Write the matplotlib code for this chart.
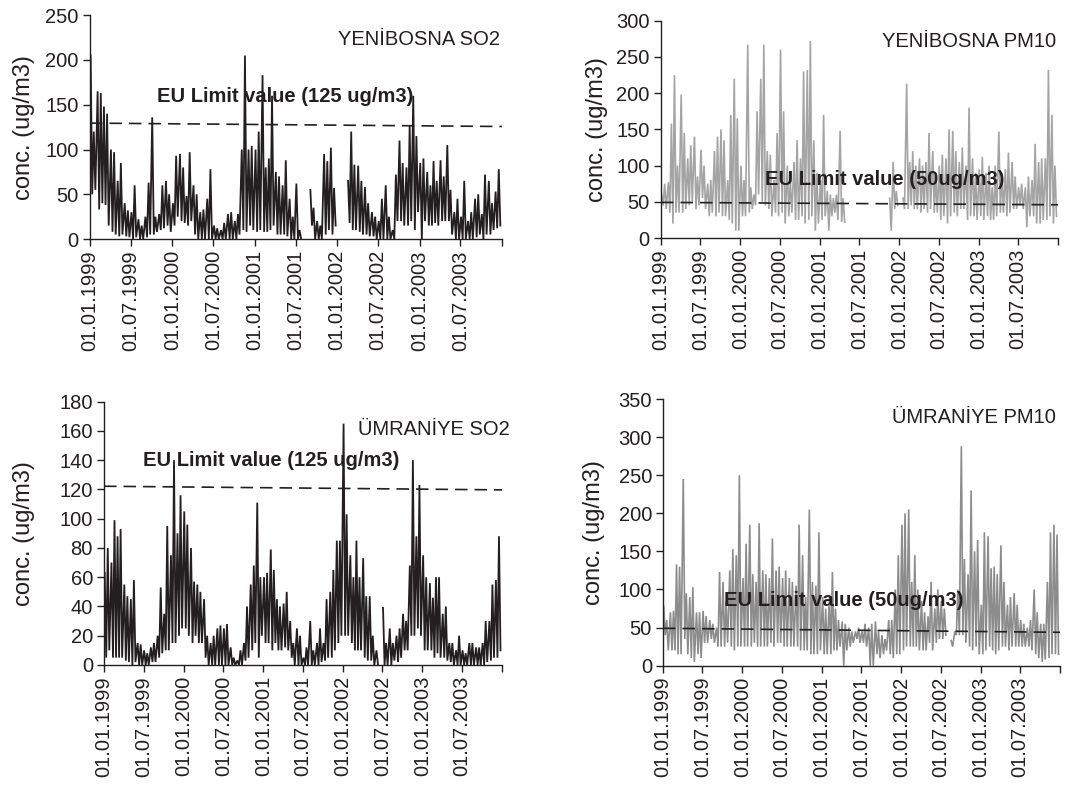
import numpy as np
import pandas as pd
import matplotlib
matplotlib.use("Agg")
import matplotlib.pyplot as plt
import matplotlib.dates as mdates

plt.rcParams['font.family'] = ['Liberation Sans', 'DejaVu Sans']

nan = np.nan

# half-month periods 01.01.1999 .. 16.12.2003
periods = pd.date_range("1999-01-01", periods=120, freq="SMS")

# peak / low value in each half month, ug/m3
yb_so2_hi = [205, 120, 165, 163, 148, 140, 100, 97, 65, 85,
             40, 32, 30, 60, 22, 15, 25, 63, 136, 25,
             28, 60, 65, 50, 40, 93, 95, 80, 48, 97,
             60, 50, 30, 33, 45, 78, 15, 12, 10, 18,
             28, 30, 20, 28, 100, 205, 100, 104, 100, 120,
             183, 80, 90, 160, 75, 70, 60, 88, 45, 25,
             62, 10, nan, nan, 55, 35, 20, 15, 95, 87,
             102, 57, nan, nan, nan, 65, 120, 83, 82, 65,
             58, 40, 30, 25, 20, 45, 60, 25, 10, 72,
             110, 85, 80, 127, 160, 115, 85, 90, 75, 60,
             87, 65, 88, 70, 105, 55, 30, 45, 25, 65,
             20, 30, 45, 50, 28, 72, 65, 40, 53, 78]
yb_so2_lo = [50, 55, 33, 40, 38, 15, 8, 5, 3, 5,
             3, 2, 0, 2, 0, 0, 2, 5, 5, 8,
             10, 12, 15, 8, 15, 25, 20, 18, 15, 20,
             5, 0, 0, 0, 0, 0, 0, 0, 0, 0,
             0, 0, 0, 5, 10, 8, 15, 10, 8, 10,
             8, 8, 10, 15, 5, 5, 5, 3, 0, 0,
             0, 0, nan, nan, 15, 0, 0, 0, 5, 10,
             5, 15, nan, nan, nan, 18, 10, 10, 8, 5,
             5, 3, 3, 0, 0, 0, 0, 0, 0, 20,
             20, 15, 15, 20, 10, 30, 0, 20, 15, 15,
             18, 15, 20, 20, 20, 5, 0, 0, 0, 0,
             0, 0, 2, 5, 0, 5, 5, 10, 12, 15]

yb_pm_hi = [60, 75, 77, 158, 225, 100, 198, 145, 110, 128,
            140, 85, 122, 100, 75, 80, 120, 140, 150, 135,
            80, 170, 220, 165, 100, 80, 267, 70, 60, 175,
            220, 267, 120, 115, 80, 145, 260, 175, 100, 80,
            105, 135, 110, 230, 232, 272, 135, 90, 80, 170,
            65, 60, 55, 60, 148, 55, nan, nan, nan, nan,
            nan, nan, nan, nan, nan, nan, nan, nan, nan, 55,
            105, 65, nan, 55, 213, 105, 120, 100, 110, 100,
            105, 145, 120, 90, 100, 115, 110, 150, 148, 120,
            105, 125, 100, 180, 110, 90, 95, 112, 90, 100,
            70, 100, 147, 90, 95, 118, 105, 85, 70, 75,
            70, 85, 80, 130, 105, 110, 110, 232, 170, 100]
yb_pm_lo = [45, 40, 35, 20, 35, 35, 35, 40, 45, 50,
            40, 45, 55, 40, 30, 35, 30, 35, 30, 30,
            25, 20, 10, 10, 30, 30, 35, 40, 45, 60,
            50, 45, 40, 30, 35, 30, 35, 20, 30, 35,
            25, 25, 30, 20, 25, 30, 10, 20, 25, 30,
            10, 30, 35, 25, 22, 22, nan, nan, nan, nan,
            nan, nan, nan, nan, nan, nan, nan, nan, nan, 10,
            40, 45, nan, 40, 40, 45, 40, 40, 35, 40,
            35, 40, 35, 35, 25, 30, 20, 30, 35, 30,
            40, 40, 25, 30, 30, 25, 30, 25, 30, 25,
            25, 30, 35, 35, 30, 35, 40, 40, 45, 40,
            15, 30, 30, 20, 20, 25, 25, 30, 20, 30]

um_so2_hi = [63, 80, 70, 99, 88, 93, 55, 47, 45, 58,
             15, 14, 10, 8, 12, 15, 20, 53, 35, 95,
             75, 140, 90, 116, 105, 96, 80, 57, 55, 50,
             45, 20, 15, 20, 25, 27, 25, 28, 12, 5,
             3, 10, 15, 40, 55, 68, 111, 60, 60, 63,
             79, 65, 45, 40, 42, 50, 30, 15, 25, 20,
             5, 12, 30, 10, 15, 25, 15, 45, 50, 65,
             85, 85, 165, 103, 75, 60, 85, 60, 73, 47,
             47, 20, 10, nan, 39, 15, 25, 15, 20, 25,
             35, 30, 68, 140, 88, 123, 75, 60, 56, 46,
             60, 60, 35, 40, 15, 15, 10, 20, 10, 8,
             15, 15, 12, 12, 15, 30, 30, 55, 58, 88]
um_so2_lo = [5, 10, 5, 5, 5, 5, 3, 2, 0, 2,
             0, 0, 0, 0, 2, 2, 5, 8, 10, 10,
             15, 15, 20, 25, 25, 20, 15, 20, 15, 15,
             5, 0, 0, 0, 0, 0, 0, 0, 0, 0,
             0, 0, 3, 5, 10, 15, 5, 20, 15, 15,
             10, 15, 10, 10, 12, 10, 5, 0, 0, 0,
             0, 0, 0, 0, 0, 2, 3, 5, 5, 10,
             15, 20, 20, 20, 15, 10, 10, 10, 5, 3,
             3, 0, 0, nan, 0, 0, 0, 3, 2, 5,
             10, 10, 20, 20, 25, 20, 10, 10, 10, 5,
             8, 5, 5, 3, 2, 0, 0, 0, 0, 0,
             0, 0, 0, 0, 0, 2, 3, 5, 5, 10]

um_pm_hi = [78, 60, 70, 72, 133, 130, 245, 95, 90, 103,
            70, 70, 72, 65, 60, 55, 50, 123, 110, 85,
            125, 153, 145, 250, 115, 160, 185, 120, 110, 187,
            125, 120, 115, 167, 125, 130, 115, 125, 115, 110,
            105, 185, 145, 90, 205, 110, 105, 175, 90, 75,
            90, 123, 75, 60, 58, 55, 50, 45, 45, 50,
            45, 55, 50, 55, 58, 45, 40, 35, 60, 60,
            100, 145, 185, 200, 205, 110, 145, 100, 85, 70,
            65, 110, 75, 100, 85, 75, nan, 33, 45, 100,
            288, 140, 120, 230, 150, 165, 80, 175, 170, 128,
            130, 120, 158, 110, 80, 90, 95, 80, 60, 55,
            50, 60, 100, 70, 55, 55, 110, 175, 185, 172]
um_pm_lo = [40, 20, 20, 20, 15, 15, 35, 15, 10, 5,
            15, 10, 30, 30, 35, 30, 25, 25, 25, 30,
            25, 20, 25, 25, 25, 25, 25, 30, 25, 25,
            25, 25, 30, 25, 30, 30, 25, 25, 25, 25,
            25, 20, 20, 20, 15, 15, 15, 20, 15, 15,
            15, 20, 20, 25, 0, 20, 25, 30, 35, 30,
            30, 25, 0, 0, 15, 10, 15, 20, 15, 10,
            15, 15, 20, 25, 25, 25, 25, 20, 20, 20,
            30, 20, 30, 35, 35, 40, nan, 25, 40, 40,
            40, 30, 25, 20, 25, 15, 15, 20, 25, 20,
            15, 20, 25, 25, 20, 25, 25, 25, 25, 25,
            25, 20, 15, 10, 5, 8, 10, 15, 15, 15]

# drawn EU limit lines (start, end) as they appear
yb_so2_limit = [129.5, 125.7]
yb_pm_limit = [49.2, 45.9]
um_so2_limit = [122.2, 119.7]
um_pm_limit = [49.1, 43.8]

tick_dates = pd.date_range("1999-01-01", "2004-01-01", freq="6MS")
tick_labels = [d.strftime("%d.%m.%Y") for d in tick_dates[:-1]] + [""]


def zigzag(hi, lo):
    t = mdates.date2num(periods.to_pydatetime())
    x = np.column_stack((t + 3, t + 10)).ravel()
    y = np.column_stack((hi, lo)).ravel()
    return x, y


fig = plt.figure(figsize=(10.85, 7.85), dpi=100)

panels = [
    # rect, hi, lo, color, line width, ymax, ystep, limit, limit text, text pos, title, title pos, ylabel x
    ([0.0829, 0.6955, 0.3797, 0.2851], yb_so2_hi, yb_so2_lo, "#231f20", 1.3, 250, 50,
     yb_so2_limit, "EU Limit value (125 ug/m3)", (0.163, 0.636),
     "YENİBOSNA SO2", (0.995, 0.89), -0.133),
    ([0.6092, 0.6968, 0.3659, 0.2768], yb_pm_hi, yb_pm_lo, "#a4a4a4", 1.2, 300, 50,
     yb_pm_limit, "EU Limit value (50ug/m3)", (0.262, 0.267),
     "YENİBOSNA PM10", (0.995, 0.903), -0.133),
    ([0.0959, 0.1529, 0.3668, 0.3354], um_so2_hi, um_so2_lo, "#231f20", 1.3, 180, 20,
     um_so2_limit, "EU Limit value (125 ug/m3)", (0.099, 0.778),
     "ÜMRANİYE SO2", (1.02, 0.893), -0.173),
    ([0.6111, 0.1520, 0.3659, 0.3397], um_pm_hi, um_pm_lo, "#8c8c8c", 1.2, 350, 50,
     um_pm_limit, "EU Limit value (50ug/m3)", (0.154, 0.246),
     "ÜMRANİYE PM10", (0.99, 0.929), -0.146),
]

x0 = mdates.date2num(tick_dates[0].to_pydatetime())
x1 = mdates.date2num(tick_dates[-1].to_pydatetime())

for rect, hi, lo, col, lw, ymax, ystep, lim, lim_txt, lim_pos, title, title_pos, ylx in panels:
    ax = fig.add_axes(rect)
    x, y = zigzag(hi, lo)
    ax.plot(x, y, color=col, lw=lw, solid_joinstyle="miter")
    ax.plot([x0, x1], lim, color="#231f20", lw=1.2, dashes=(7.5, 4.2))

    ax.set_xlim(x0, x1)
    ax.set_ylim(0, ymax)
    ax.set_yticks(np.arange(0, ymax + 1, ystep))
    ax.set_xticks(mdates.date2num(tick_dates.to_pydatetime()))
    ax.set_xticklabels(tick_labels, rotation=90)

    for s in ["top", "right"]:
        ax.spines[s].set_visible(False)
    for s in ["left", "bottom"]:
        ax.spines[s].set_color("#231f20")
        ax.spines[s].set_linewidth(1.0)
    ax.tick_params(direction="out", length=5, width=1.0, labelsize=14.5,
                   colors="#231f20", pad=3)
    ax.set_ylabel("conc. (ug/m3)", fontsize=17, color="#231f20")
    ax.yaxis.set_label_coords(ylx, 0.5)

    ax.text(lim_pos[0], lim_pos[1], lim_txt, transform=ax.transAxes,
            fontsize=14.5, fontweight="bold", ha="left", va="center", color="#231f20")
    ax.text(title_pos[0], title_pos[1], title, transform=ax.transAxes,
            fontsize=14.5, ha="right", va="center", color="#231f20")

fig.savefig("out.png", dpi=100)
